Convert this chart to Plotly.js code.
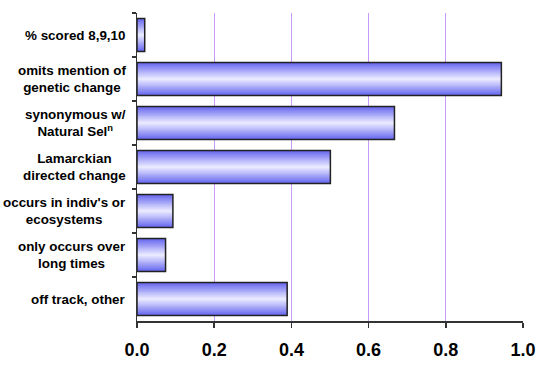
<!DOCTYPE html>
<html>
<head>
<meta charset="utf-8">
<script src="https://cdn.plot.ly/plotly-3.0.1.min.js"></script>
<style>html,body{margin:0;padding:0;background:#fff;}#chart{width:540px;height:365px;}</style>
</head>
<body>
<div id="chart"></div>
<script>
var categories = [
  "% scored 8,9,10",
  "omits mention of<br>genetic change",
  "synonymous w/<br>Natural Sel<sup>n</sup>",
  "Lamarckian<br>directed change",
  "occurs in indiv's or<br>ecosystems",
  "only occurs over<br>long times",
  "off track, other"
];
var values = [0.02, 0.944, 0.667, 0.501, 0.093, 0.074, 0.389];
var xTickVals = [0, 0.2, 0.4, 0.6, 0.8, 1.0];

var darkC = [104, 104, 240];
var lightC = [232, 232, 255];
var N = 14;
var W = 0.75;
var traces = [];
for (var k = 0; k < N; k++) {
  var t = k / (N - 1);
  var c = darkC.map(function(d, i){ return Math.round(d + (lightC[i] - d) * t); });
  traces.push({
    type: 'bar', orientation: 'h',
    x: values, y: categories,
    width: W * (1 - k / N),
    marker: {color: 'rgb(' + c.join(',') + ')', line: {width: 0}},
    hoverinfo: 'skip'
  });
}
traces.push({
  type: 'bar', orientation: 'h',
  x: values, y: categories,
  width: W,
  marker: {color: 'rgba(0,0,0,0)', line: {width: 1.5, color: '#222'}},
  hoverinfo: 'skip'
});

var annotations = categories.map(function(cat){
  return {
    xref: 'paper', yref: 'y', x: -0.024, y: cat,
    text: cat, showarrow: false,
    xanchor: 'right', yanchor: 'middle', align: 'center',
    font: {size: 13.4, family: 'Liberation Sans, Arial, sans-serif', weight: 'bold', color: '#000'}
  };
});

var layout = {
  width: 540, height: 365,
  margin: {l: 137, r: 17, t: 13, b: 44},
  paper_bgcolor: '#fff', plot_bgcolor: '#fff',
  barmode: 'overlay',
  showlegend: false,
  hovermode: false,
  font: {family: 'Liberation Sans, Arial, sans-serif', color: '#000'},
  annotations: annotations,
  xaxis: {
    range: [0, 1], tickvals: xTickVals, tickformat: '.1f',
    showgrid: true, gridcolor: '#cc99ff', gridwidth: 1,
    zeroline: false, showline: true, linecolor: '#333', linewidth: 1.5,
    ticks: 'outside', ticklen: 5, tickcolor: '#333', tickwidth: 1.5,
    ticklabelstandoff: 7,
    tickfont: {size: 18, family: 'Liberation Sans, Arial, sans-serif', weight: 'bold'},
    fixedrange: true
  },
  yaxis: {
    type: 'category', autorange: 'reversed',
    tickson: 'boundaries', ticks: 'outside', ticklen: 4, tickcolor: '#333', tickwidth: 1.5,
    showline: true, linecolor: '#333', linewidth: 1.5,
    showticklabels: false,
    showgrid: false, zeroline: false,
    fixedrange: true
  }
};
Plotly.newPlot('chart', traces, layout, {displayModeBar: false, staticPlot: true});
</script>
</body>
</html>
